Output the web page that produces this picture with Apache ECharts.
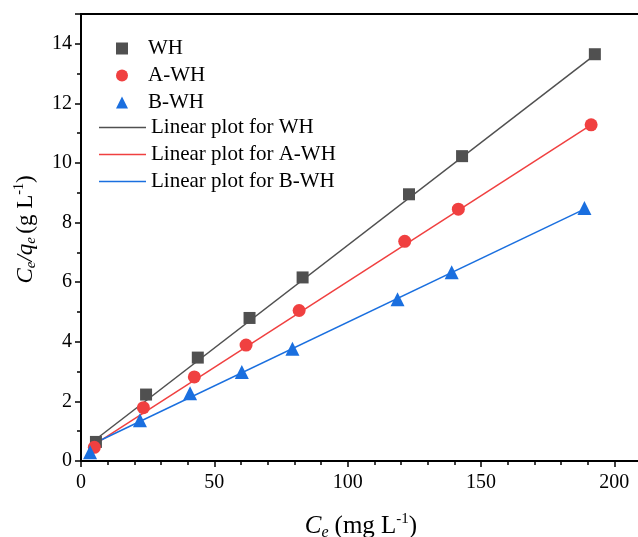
<!DOCTYPE html>
<html>
<head>
<meta charset="utf-8">
<script src="https://cdn.jsdelivr.net/npm/echarts@6/dist/echarts.min.js"></script>
<style>html,body{margin:0;padding:0;background:#fff;}#c{width:638px;height:537px;}</style>
</head>
<body>
<div id="c"></div>
<script>
// Data
var whX = [5.6, 24.4, 43.8, 63.2, 83.1, 123.0, 142.9, 192.7];
var whY = [0.64, 2.23, 3.47, 4.80, 6.16, 8.95, 10.23, 13.65];
var awhX = [5.0, 23.4, 42.5, 61.9, 81.8, 121.4, 141.5, 191.3];
var awhY = [0.46, 1.79, 2.82, 3.89, 5.05, 7.37, 8.45, 11.28];
var bwhX = [3.4, 22.1, 40.9, 60.3, 79.3, 118.7, 139.0, 188.8];
var bwhY = [0.29, 1.37, 2.27, 2.99, 3.77, 5.43, 6.33, 8.49];
// Linear fit endpoints
var fitWH = [[5.6, 0.73], [192.7, 13.63]];
var fitAWH = [[5.0, 0.55], [191.3, 11.28]];
var fitBWH = [[3.4, 0.53], [188.8, 8.45]];
var xTicks = [0, 50, 100, 150, 200];
var yTicks = [0, 2, 4, 6, 8, 10, 12, 14];

function pairs(xs, ys) { return xs.map(function (x, i) { return [x, ys[i]]; }); }

var font = 'Liberation Serif';
var cGray = '#505050', cRed = '#f04040', cBlue = '#1a6fdf';

function mkRich(s) {
  return {
    i: {fontFamily: font, fontStyle: 'italic', fontSize: s, color: '#000'},
    sub: {fontFamily: font, fontStyle: 'italic', fontSize: Math.round(s * 0.65), color: '#000', verticalAlign: 'bottom', padding: [Math.round(s * 0.52), 0, 0, 0]},
    n: {fontFamily: font, fontSize: s, color: '#000'},
    sp: {fontFamily: font, fontSize: s, color: '#000', width: Math.round(s * 0.25)},
    sup: {fontFamily: font, fontSize: Math.round(s * 0.6), color: '#000', verticalAlign: 'top', padding: [0, 0, Math.round(s * 0.43), 0]}
  };
}

var chart = echarts.init(document.getElementById('c'), null, {renderer: 'canvas'});
chart.setOption({
  animation: false,
  backgroundColor: '#fff',
  grid: {left: 81, top: 14, right: -3, bottom: 76, outerBoundsMode: 'none', containLabel: false,
    show: true, borderColor: '#000', borderWidth: 2, backgroundColor: 'transparent'},
  xAxis: {
    type: 'value', min: 0, max: 210, interval: 50,
    name: '{i|C}{sub|e}{sp|}{n|(mg L}{sup|-1}{n|)}',
    nameLocation: 'middle', nameGap: 51,
    nameTextStyle: {rich: mkRich(25)},
    axisLine: {show: true, onZero: false, lineStyle: {color: '#000', width: 2}},
    axisTick: {show: true, inside: false, length: 6, lineStyle: {color: '#000', width: 1.5}},
    minorTick: {show: true, splitNumber: 5, length: 4, lineStyle: {color: '#000', width: 1.5}},
    axisLabel: {fontFamily: font, fontSize: 20, color: '#000', margin: 12,
      formatter: function (v) { return xTicks.indexOf(v) >= 0 ? String(v) : ''; }},
    splitLine: {show: false}
  },
  yAxis: {
    type: 'value', min: 0, max: 15, interval: 2,
    name: '{i|C}{sub|e}{i|/q}{sub|e} {n|(g L}{sup|-1}{n|)}',
    nameLocation: 'middle', nameGap: 42, nameRotate: 90,
    nameTextStyle: {rich: mkRich(23), padding: [0, 0, 0, 16]},
    axisLine: {show: true, onZero: false, lineStyle: {color: '#000', width: 2}},
    axisTick: {show: true, inside: false, length: 6, lineStyle: {color: '#000', width: 1.5}},
    minorTick: {show: true, splitNumber: 2, length: 4, lineStyle: {color: '#000', width: 1.5}},
    axisLabel: {fontFamily: font, fontSize: 20, color: '#000', margin: 9,
      formatter: function (v) { return yTicks.indexOf(v) >= 0 ? String(v) : ''; }},
    splitLine: {show: false}
  },
  legend: [
    {
      orient: 'vertical', left: 111, top: 33, itemWidth: 12, itemHeight: 12, itemGap: 6,
      textStyle: {fontFamily: font, fontSize: 21, color: '#000', lineHeight: 20, padding: [0, 0, 0, 15]},
      data: [{name: 'WH', icon: 'rect'}, {name: 'A-WH', icon: 'circle'}, {name: 'B-WH', icon: 'triangle'}]
    },
    {
      orient: 'vertical', left: 94, top: 112, itemWidth: 47, itemHeight: 1.6, itemGap: 6,
      textStyle: {fontFamily: font, fontSize: 21, color: '#000', lineHeight: 20, padding: [0, 0, 0, 0]},
      data: [{name: 'Linear plot for WH', icon: 'rect'}, {name: 'Linear plot for A-WH', icon: 'rect'}, {name: 'Linear plot for B-WH', icon: 'rect'}]
    }
  ],
  series: [
    {name: 'Linear plot for WH', type: 'line', data: fitWH, symbol: 'none', showSymbol: false, lineStyle: {color: cGray, width: 1.5}, itemStyle: {color: cGray}, z: 2},
    {name: 'Linear plot for A-WH', type: 'line', data: fitAWH, symbol: 'none', showSymbol: false, lineStyle: {color: cRed, width: 1.5}, itemStyle: {color: cRed}, z: 2},
    {name: 'Linear plot for B-WH', type: 'line', data: fitBWH, symbol: 'none', showSymbol: false, lineStyle: {color: cBlue, width: 1.5}, itemStyle: {color: cBlue}, z: 2},
    {name: 'WH', type: 'scatter', data: pairs(whX, whY), symbol: 'rect', symbolSize: 12, itemStyle: {color: cGray, opacity: 1}, z: 3},
    {name: 'A-WH', type: 'scatter', data: pairs(awhX, awhY), symbol: 'circle', symbolSize: 13, itemStyle: {color: cRed, opacity: 1}, z: 3},
    {name: 'B-WH', type: 'scatter', data: pairs(bwhX, bwhY), symbol: 'triangle', symbolSize: 14, itemStyle: {color: cBlue, opacity: 1}, z: 3}
  ]
});
</script>
</body>
</html>
